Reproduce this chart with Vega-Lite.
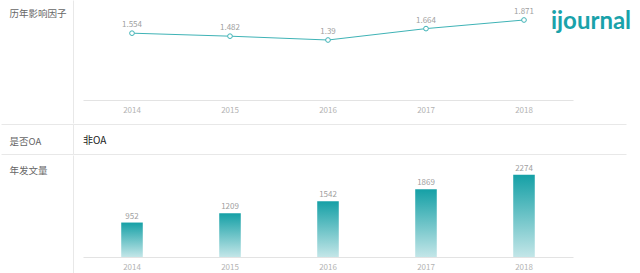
{
  "$schema": "https://vega.github.io/schema/vega-lite/v6.json",
  "padding": 0,
  "spacing": 0,
  "background": "white",
  "config": {
    "view": {"stroke": null},
    "font": "Noto Sans CJK SC",
    "axis": {"labelFont": "Noto Sans CJK SC", "titleFont": "Noto Sans CJK SC"}
  },
  "datasets": {
    "impact": [
      {"year": "2014", "value": 1.554},
      {"year": "2015", "value": 1.482},
      {"year": "2016", "value": 1.39},
      {"year": "2017", "value": 1.664},
      {"year": "2018", "value": 1.871}
    ],
    "pubs": [
      {"year": "2014", "count": 952},
      {"year": "2015", "count": 1209},
      {"year": "2016", "count": 1542},
      {"year": "2017", "count": 1869},
      {"year": "2018", "count": 2274}
    ],
    "logo": [{"logo": "ijournal"}]
  },
  "vconcat": [
    {
      "width": 500,
      "height": 123,
      "layer": [
        {
          "data": {"name": "impact"},
          "mark": {"type": "line", "color": "#3fb3b6", "strokeWidth": 1},
          "encoding": {
            "x": {
              "field": "year", "type": "ordinal",
              "scale": {"type": "band", "domain": ["2014", "2015", "2016", "2017", "2018"], "range": [10, 500], "paddingInner": 0, "paddingOuter": 0},
              "axis": {"title": null, "offset": -23, "domainColor": "#e3e3e3", "domainWidth": 1.2, "ticks": false, "labelColor": "#b3b3b3", "labelFontSize": 8, "labelPadding": 6, "labelAngle": 0}
            },
            "y": {
              "field": "value", "type": "quantitative",
              "scale": {"domain": [-0.606, 2.352], "nice": false, "zero": false},
              "axis": {"title": "历年影响因子", "labels": false, "ticks": false, "grid": false, "domainColor": "#e8e8e8", "titleAngle": 0, "titleAlign": "left", "titleBaseline": "middle", "titleX": -64, "titleY": 13, "titleFontSize": 9.5, "titleFontWeight": "normal", "titleColor": "#666"}
            }
          }
        },
        {
          "data": {"name": "impact"},
          "mark": {"type": "point", "filled": true, "fill": "white", "stroke": "#3fb3b6", "strokeWidth": 1, "size": 22, "opacity": 1},
          "encoding": {"x": {"field": "year", "type": "ordinal"}, "y": {"field": "value", "type": "quantitative"}}
        },
        {
          "data": {"name": "impact"},
          "mark": {"type": "text", "baseline": "bottom", "dy": -4, "fontSize": 8, "color": "#a0a0a0"},
          "encoding": {"x": {"field": "year", "type": "ordinal"}, "y": {"field": "value", "type": "quantitative"}, "text": {"field": "value", "type": "nominal"}}
        },
        {
          "data": {"name": "logo"},
          "mark": {"type": "text", "font": "Lato", "fontWeight": "bold", "fontSize": 24, "color": "#1aa2aa", "baseline": "alphabetic", "align": "center", "dx": 67},
          "encoding": {"x": {"datum": "2018", "type": "ordinal"}, "y": {"datum": 1.655, "type": "quantitative"}, "text": {"field": "logo", "type": "nominal"}}
        }
      ]
    },
    {
      "width": 553,
      "height": 30,
      "data": {"values": [{"oa": "非OA"}]},
      "mark": {"type": "text", "align": "left", "baseline": "middle", "fontSize": 10, "color": "#222", "dx": 10},
      "encoding": {
        "x": {"datum": "2014", "scale": {"type": "point", "domain": ["2014", "2015", "2016", "2017", "2018"], "padding": 0, "align": 0}, "axis": null},
        "y": {
          "datum": 0.45,
          "scale": {"domain": [0, 1], "nice": false},
          "axis": {"title": "是否OA", "values": [0, 1], "labels": false, "ticks": true, "tickSize": 72, "tickColor": "#e8e8e8", "grid": true, "gridColor": "#e8e8e8", "domainColor": "#e8e8e8", "titleAngle": 0, "titleAlign": "left", "titleBaseline": "middle", "titleX": -64, "titleY": 17, "titleFontSize": 9.5, "titleFontWeight": "normal", "titleColor": "#666"}
        },
        "text": {"field": "oa", "type": "nominal"}
      }
    },
    {
      "width": 500,
      "height": 120,
      "data": {"name": "pubs"},
      "encoding": {
        "x": {
          "field": "year", "type": "ordinal",
          "scale": {"type": "band", "domain": ["2014", "2015", "2016", "2017", "2018"], "range": [10, 500], "paddingInner": 0, "paddingOuter": 0},
          "axis": {"title": null, "offset": -18, "domainColor": "#e3e3e3", "domainWidth": 1.2, "ticks": false, "labelColor": "#b3b3b3", "labelFontSize": 8, "labelPadding": 6, "labelAngle": 0}
        },
        "y": {
          "field": "count", "type": "quantitative",
          "scale": {"domain": [-497.4, 2818.5], "nice": false},
          "axis": {"title": "年发文量", "labels": false, "ticks": false, "grid": false, "domainColor": "#e8e8e8", "titleAngle": 0, "titleAlign": "left", "titleBaseline": "middle", "titleX": -64, "titleY": 15, "titleFontSize": 9.5, "titleFontWeight": "normal", "titleColor": "#666"}
        }
      },
      "layer": [
        {"mark": {"type": "bar", "width": {"band": 0.22}, "color": {"gradient": "linear", "x1": 0, "y1": 0, "x2": 0, "y2": 1, "stops": [{"offset": 0, "color": "#15a0a6"}, {"offset": 1, "color": "#c3e6e8"}]}}},
        {"mark": {"type": "text", "baseline": "bottom", "dy": -2, "fontSize": 8, "color": "#a0a0a0"}, "encoding": {"text": {"field": "count", "type": "nominal"}}}
      ]
    }
  ]
}
